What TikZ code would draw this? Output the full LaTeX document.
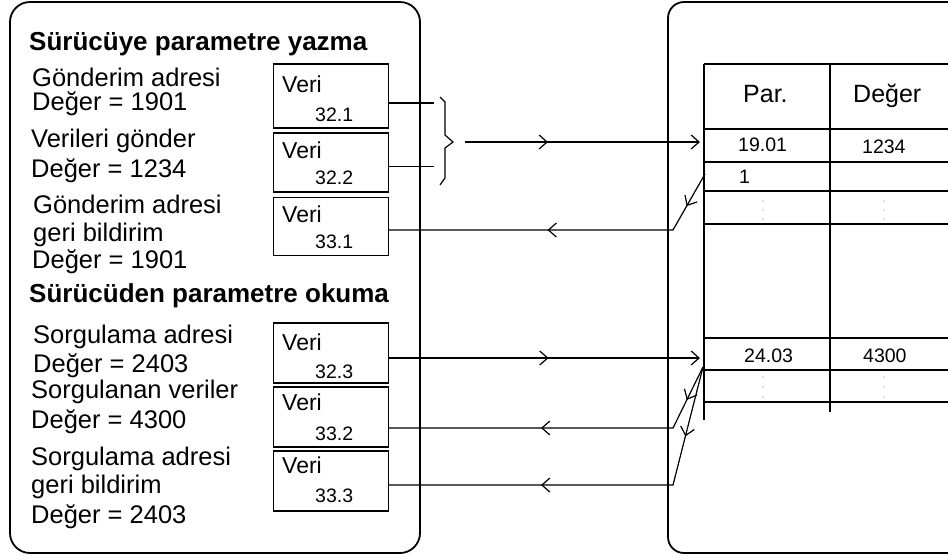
\documentclass[tikz,border=0pt]{standalone}
\usepackage{fontspec}
\setmainfont{Liberation Sans}
\usetikzlibrary{arrows.meta,decorations.markings}
\tikzset{
  chev/.tip={Straight Barb[length=8pt,width=14pt]},
  panel/.style={line width=1.8pt},
  veribox/.style={draw,rectangle,line width=1.2pt,minimum width=115pt,inner sep=0pt},
  conn/.style={line width=1.2pt},
  tabline/.style={line width=1.2pt},
  midarrow/.style={postaction={decorate,decoration={markings,
      mark=at position #1 with {\arrow{Straight Barb[length=8pt,width=14pt]}}}}},
  lbl/.style={anchor=base west,inner sep=0pt,font=\fontsize{25.5}{28}\selectfont},
  head/.style={anchor=base west,inner sep=0pt,font=\fontsize{26}{28}\selectfont\bfseries},
  vtxt/.style={anchor=base west,inner sep=0pt,font=\fontsize{23}{25}\selectfont},
  ntxt/.style={anchor=base west,inner sep=0pt,font=\fontsize{19.5}{21}\selectfont},
  htxt/.style={anchor=base west,inner sep=0pt,font=\fontsize{25}{27}\selectfont},
  tdot/.style={fill=black!55},
}
\begin{document}
\begin{tikzpicture}[x=1pt,y=-1pt]
\useasboundingbox (0,0) rectangle (948,558);
\clip (0,0) rectangle (948,558);

% the two panels
\draw[panel,rounded corners=20pt] (10,2) rectangle (420,553);
\draw[panel,rounded corners=16pt] (668,2) rectangle (990,553);

% --- writing a parameter ---
\node[head] (h1) at (29,50) {Sürücüye parametre yazma};
\node[lbl] (a1) at (32,86) {Gönderim adresi};
\node[lbl] (a2) at (32,110) {Değer = 1901};
\node[lbl] (a3) at (31,147) {Verileri gönder};
\node[lbl] (a4) at (31,177) {Değer = 1234};
\node[lbl] (a5) at (33,213) {Gönderim adresi};
\node[lbl] (a6) at (33,241) {geri bildirim};
\node[lbl] (a7) at (32,268) {Değer = 1901};

% --- reading a parameter ---
\node[head] (h2) at (29,302) {Sürücüden parametre okuma};
\node[lbl] (b1) at (33,343) {Sorgulama adresi};
\node[lbl] (b2) at (33,372) {Değer = 2403};
\node[lbl] (b3) at (31,398) {Sorgulanan veriler};
\node[lbl] (b4) at (31,428) {Değer = 4300};
\node[lbl] (b5) at (31,465) {Sorgulama adresi};
\node[lbl] (b6) at (31,493) {geri bildirim};
\node[lbl] (b7) at (31,523) {Değer = 2403};

% data word boxes
\node[veribox,minimum height=64pt] (v1) at (331,96) {};
\node[veribox,minimum height=59pt] (v2) at (331,162.5) {};
\node[veribox,minimum height=58pt] (v3) at (331,226.5) {};
\node[veribox,minimum height=60pt] (v4) at (331,353) {};
\node[veribox,minimum height=60pt] (v5) at (331,417) {};
\node[veribox,minimum height=60pt] (v6) at (331,481) {};

\node[vtxt] (v1a) at (282,92) {Veri};   \node[ntxt] (v1b) at (315,121) {32.1};
\node[vtxt] (v2a) at (282,158) {Veri};  \node[ntxt] (v2b) at (315,184) {32.2};
\node[vtxt] (v3a) at (282,222) {Veri};  \node[ntxt] (v3b) at (315,248) {33.1};
\node[vtxt] (v4a) at (282,350) {Veri};  \node[ntxt] (v4b) at (315,378) {32.3};
\node[vtxt] (v5a) at (282,410) {Veri};  \node[ntxt] (v5b) at (315,440) {33.2};
\node[vtxt] (v6a) at (282,473) {Veri};  \node[ntxt] (v6b) at (315,502) {33.3};

% parameter table
\draw[tabline] (704,64) -- (704,420);
\draw[tabline] (830,64) -- (830,412);
\foreach \yy in {64,129,162,191,224,338,370,402}
  \draw[tabline] (704,\yy) -- (960,\yy);

\node[htxt] (tpar) at (743,102) {Par.};
\node[htxt] (tdeg) at (853,102) {Değer};
\node[ntxt] (t1901) at (738,151) {19.01};
\node[ntxt] (t1234) at (862,153) {1234};
\node[ntxt] (tone) at (739,183) {1};
\node[ntxt] (t2403) at (744,362) {24.03};
\node[ntxt] (t4300) at (863,362) {4300};

\foreach \xx in {763,884}{
  \foreach \yy in {201,210,219,377,387,397}
    \fill[tdot] (\xx,\yy) circle (0.7);
}

% brace gathering the first two words
\coordinate (br) at (453,142);
\draw[conn,line join=miter] (440,97) -- (445,102) -- (445,135) -- (br)
  -- (445,148) -- (445,178) -- (440,185);
\draw[conn] ([yshift=-7pt]v1.east) -- ++(44.5,0);
\draw[conn] ([yshift=-4pt]v2.east) -- ++(44.5,0);

% write request into the table
\coordinate (bs) at (465,142);
\coordinate (in1) at (700,142);
\draw[conn,-{chev},midarrow=83pt] (bs) -- (in1);

% acknowledgement of the write address
\coordinate (o1) at (705,174);
\coordinate (k1) at (673,230);
\draw[conn,midarrow=37pt,midarrow=190pt] (o1) -- (k1) -- ([yshift=-3.5pt]v3.east);

% read request into the table
\coordinate (in2) at (700,358);
\draw[conn,-{chev},midarrow=159.5pt] ([yshift=-5pt]v4.east) -- (in2);

% read data and acknowledgement back to the words
\coordinate (o2) at (703,367);
\coordinate (k2) at (673,428);
\coordinate (k3) at (673,485);
\draw[conn,midarrow=36.7pt,midarrow=200pt] (o2) -- (k2) -- ([yshift=-11pt]v5.east);
\draw[conn,midarrow=71.6pt,midarrow=253.8pt] (o2) -- (k3) -- ([yshift=-4pt]v6.east);
\end{tikzpicture}
\end{document}
